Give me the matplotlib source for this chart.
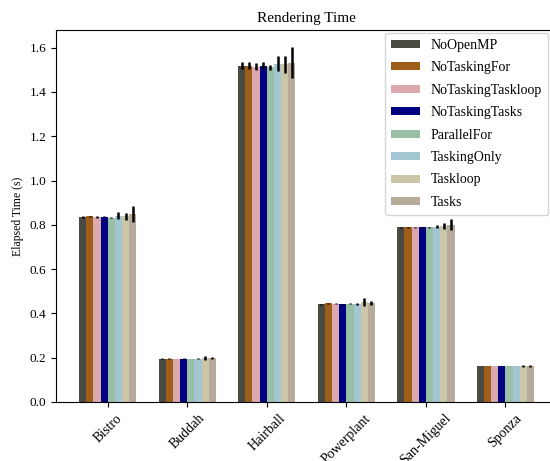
import numpy as np
import matplotlib
matplotlib.use("Agg")
import matplotlib.pyplot as plt

plt.rcParams['font.family'] = ['Liberation Serif', 'DejaVu Serif']

scenes = ["Bistro", "Buddah", "Hairball", "Powerplant", "San-Miguel", "Sponza"]
variants = ["NoOpenMP", "NoTaskingFor", "NoTaskingTaskloop", "NoTaskingTasks",
            "ParallelFor", "TaskingOnly", "Taskloop", "Tasks"]
colors = ["#4b4a42", "#9c5e18", "#dcaaae", "#000080",
          "#99c0a7", "#a3c6d3", "#cbc6a8", "#b6aa9b"]

# mean elapsed time per scene (rows follow `variants`)
NoOpenMP          = [0.835, 0.195, 1.519, 0.442, 0.789, 0.162]
NoTaskingFor      = [0.838, 0.195, 1.519, 0.446, 0.789, 0.162]
NoTaskingTaskloop = [0.835, 0.194, 1.514, 0.444, 0.788, 0.162]
NoTaskingTasks    = [0.837, 0.195, 1.519, 0.442, 0.789, 0.162]
ParallelFor       = [0.833, 0.194, 1.511, 0.443, 0.788, 0.162]
TaskingOnly       = [0.842, 0.195, 1.528, 0.444, 0.792, 0.162]
Taskloop          = [0.838, 0.198, 1.525, 0.451, 0.795, 0.163]
Tasks             = [0.848, 0.198, 1.532, 0.446, 0.800, 0.163]

# standard deviation per scene
NoOpenMP_err          = [0.003, 0.002, 0.017, 0.002, 0.002, 0.001]
NoTaskingFor_err      = [0.003, 0.002, 0.016, 0.002, 0.002, 0.001]
NoTaskingTaskloop_err = [0.003, 0.002, 0.015, 0.002, 0.002, 0.001]
NoTaskingTasks_err    = [0.003, 0.002, 0.017, 0.002, 0.002, 0.001]
ParallelFor_err       = [0.003, 0.002, 0.012, 0.002, 0.002, 0.001]
TaskingOnly_err       = [0.014, 0.002, 0.035, 0.004, 0.006, 0.001]
Taskloop_err          = [0.015, 0.010, 0.038, 0.017, 0.015, 0.006]
Tasks_err             = [0.037, 0.004, 0.069, 0.009, 0.025, 0.006]

values = [NoOpenMP, NoTaskingFor, NoTaskingTaskloop, NoTaskingTasks,
          ParallelFor, TaskingOnly, Taskloop, Tasks]
errors = [NoOpenMP_err, NoTaskingFor_err, NoTaskingTaskloop_err, NoTaskingTasks_err,
          ParallelFor_err, TaskingOnly_err, Taskloop_err, Tasks_err]

fig = plt.figure(figsize=(5.5, 4.61), dpi=100)
ax = fig.add_axes([0.1024, 0.128, 0.91, 0.807])

x = np.arange(len(scenes))
width = 0.09
n = len(variants)
for i, (name, vals, errs, c) in enumerate(zip(variants, values, errors, colors)):
    offs = (i - (n - 1) / 2) * width
    ax.bar(x + offs, vals, width, color=c, label=name,
           yerr=errs, error_kw=dict(ecolor="black", elinewidth=1.8, capsize=0))

ax.set_ylim(0, 1.68)
ax.set_xticks(x)
ax.set_xticklabels(scenes, rotation=45, ha="center", fontsize=10)
ax.set_yticks(np.arange(0, 1.61, 0.2))
ax.set_yticklabels([f"{v:.1f}" for v in np.arange(0, 1.61, 0.2)], fontsize=9.5)
ax.set_ylabel("Elapsed Time (s)", fontsize=8.5)
ax.set_title("Rendering Time", fontsize=11)
ax.tick_params(axis="both", direction="out", length=3.5, width=0.8)

leg = ax.legend(loc="upper right", bbox_to_anchor=(0.983, 0.993), fontsize=10,
                handlelength=2.1, handleheight=0.5, handletextpad=0.75,
                labelspacing=0.68, frameon=True, fancybox=True,
                borderpad=0.45, borderaxespad=0.0)
leg.get_frame().set_edgecolor("#cccccc")

fig.savefig("out.png", dpi=100)
